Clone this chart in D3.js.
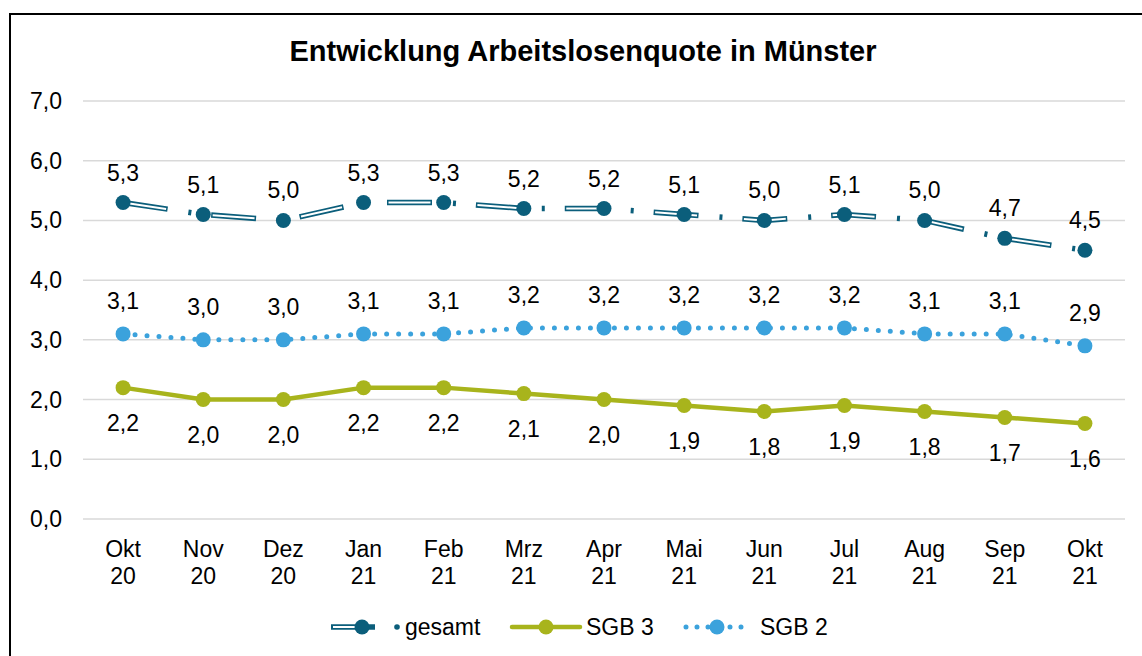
<!DOCTYPE html>
<html>
<head>
<meta charset="utf-8">
<script src="https://cdn.jsdelivr.net/npm/d3@7"></script>
<style>
  body { margin: 0; background: #fff; }
  svg { display: block; font-family: "Liberation Sans", Arial, sans-serif; }
</style>
</head>
<body>
<svg id="chart"></svg>
<script>
const width = 1142;
const height = 656;

const months = ["Okt", "Nov", "Dez", "Jan", "Feb", "Mrz", "Apr", "Mai", "Jun", "Jul", "Aug", "Sep", "Okt"];
const years = ["20", "20", "20", "21", "21", "21", "21", "21", "21", "21", "21", "21", "21"];
const gesamt = [5.3, 5.1, 5.0, 5.3, 5.3, 5.2, 5.2, 5.1, 5.0, 5.1, 5.0, 4.7, 4.5];
const sgb3 = [2.2, 2.0, 2.0, 2.2, 2.2, 2.1, 2.0, 1.9, 1.8, 1.9, 1.8, 1.7, 1.6];
const sgb2 = [3.1, 3.0, 3.0, 3.1, 3.1, 3.2, 3.2, 3.2, 3.2, 3.2, 3.1, 3.1, 2.9];
const yTicks = [0, 1, 2, 3, 4, 5, 6, 7];

const cGesamt = "#0b5e7b";
const cSgb3 = "#a8b41c";
const cSgb2 = "#3ba2dc";
const fs = 23;

const svg = d3.select("#chart").attr("width", width).attr("height", height);

// frame
svg.append("rect")
    .attr("x", 10).attr("y", 14)
    .attr("width", 1200).attr("height", 700)
    .style("fill", "#fff").style("stroke", "#000").style("stroke-width", 2);

// title
svg.append("text")
    .attr("x", 583).attr("y", 61)
    .attr("text-anchor", "middle")
    .attr("font-size", 29).attr("font-weight", "bold")
    .text("Entwicklung Arbeitslosenquote in Münster");

const x = d3.scaleBand().domain(d3.range(months.length)).range([83, 1125]);
const y = d3.scaleLinear().domain([0, 7]).range([519, 101]);
const cx = i => x(i) + x.bandwidth() / 2;

// grid
svg.append("g")
    .selectAll("line")
    .data(yTicks)
    .join("line")
    .attr("x1", 83).attr("x2", 1125)
    .attr("y1", d => y(d)).attr("y2", d => y(d))
    .style("stroke", "#d9d9d9").style("stroke-width", 1.5);

// y axis labels
svg.append("g")
    .selectAll("text")
    .data(yTicks)
    .join("text")
    .attr("x", 62).attr("y", d => y(d))
    .attr("dy", "0.35em")
    .attr("text-anchor", "end")
    .attr("font-size", fs)
    .text(d => d.toFixed(1).replace(".", ","));

// x axis labels
const xl = svg.append("g")
    .selectAll("text")
    .data(months)
    .join("text")
    .attr("x", (d, i) => cx(i))
    .attr("text-anchor", "middle")
    .attr("font-size", fs);
xl.append("tspan").attr("x", (d, i) => cx(i)).attr("y", 557).text(d => d);
xl.append("tspan").attr("x", (d, i) => cx(i)).attr("y", 584).text((d, i) => years[i]);

const line = d3.line().x((d, i) => cx(i)).y(d => y(d));

// SGB 3
svg.append("path").datum(sgb3).attr("d", line)
    .style("fill", "none").style("stroke", cSgb3).style("stroke-width", 4.5)
    .style("stroke-linejoin", "round");

// SGB 2
svg.append("path").datum(sgb2).attr("d", line)
    .style("fill", "none").style("stroke", cSgb2).style("stroke-width", 5)
    .style("stroke-linecap", "round").style("stroke-dasharray", "0 12");

// gesamt: double line, long dash dot
svg.append("path").datum(gesamt).attr("d", line)
    .style("fill", "none").style("stroke", cGesamt).style("stroke-width", 5.5)
    .style("stroke-dasharray", "45 21 3 20");
svg.append("path").datum(gesamt).attr("d", line)
    .style("fill", "none").style("stroke", "#fff").style("stroke-width", 2)
    .style("stroke-dasharray", "42 47").style("stroke-dashoffset", -1.5);

const series = [
  { values: sgb3, color: cSgb3, dy: 35 },
  { values: sgb2, color: cSgb2, dy: -33 },
  { values: gesamt, color: cGesamt, dy: -30 }
];

series.forEach(s => {
  svg.append("g")
      .selectAll("circle")
      .data(s.values)
      .join("circle")
      .attr("cx", (d, i) => cx(i))
      .attr("cy", d => y(d))
      .attr("r", 7.5)
      .style("fill", s.color);
  svg.append("g")
      .selectAll("text")
      .data(s.values)
      .join("text")
      .attr("x", (d, i) => cx(i))
      .attr("y", d => y(d) + s.dy)
      .attr("dy", "0.35em")
      .attr("text-anchor", "middle")
      .attr("font-size", fs)
      .text(d => d.toFixed(1).replace(".", ","));
});

// legend
const ly = 627;
const lg = svg.append("g");
// gesamt
lg.append("line").attr("x1", 331).attr("x2", 375).attr("y1", ly).attr("y2", ly)
    .style("stroke", cGesamt).style("stroke-width", 5.5);
lg.append("line").attr("x1", 333).attr("x2", 362).attr("y1", ly).attr("y2", ly)
    .style("stroke", "#fff").style("stroke-width", 2);
lg.append("circle").attr("cx", 362).attr("cy", ly).attr("r", 7.5).style("fill", cGesamt);
lg.append("circle").attr("cx", 397).attr("cy", ly).attr("r", 2.8).style("fill", cGesamt);
lg.append("text").attr("x", 405).attr("y", ly).attr("dy", "0.35em").attr("font-size", fs).text("gesamt");
// SGB 3
lg.append("line").attr("x1", 512).attr("x2", 580).attr("y1", ly).attr("y2", ly)
    .style("stroke", cSgb3).style("stroke-width", 4.5).style("stroke-linecap", "round");
lg.append("circle").attr("cx", 546).attr("cy", ly).attr("r", 7.5).style("fill", cSgb3);
lg.append("text").attr("x", 586).attr("y", ly).attr("dy", "0.35em").attr("font-size", fs).text("SGB 3");
// SGB 2
lg.append("line").attr("x1", 686).attr("x2", 746).attr("y1", ly).attr("y2", ly)
    .style("stroke", cSgb2).style("stroke-width", 5).style("stroke-linecap", "round")
    .style("stroke-dasharray", "0 11");
lg.append("circle").attr("cx", 717).attr("cy", ly).attr("r", 7.5).style("fill", cSgb2);
lg.append("text").attr("x", 760).attr("y", ly).attr("dy", "0.35em").attr("font-size", fs).text("SGB 2");
</script>
</body>
</html>
